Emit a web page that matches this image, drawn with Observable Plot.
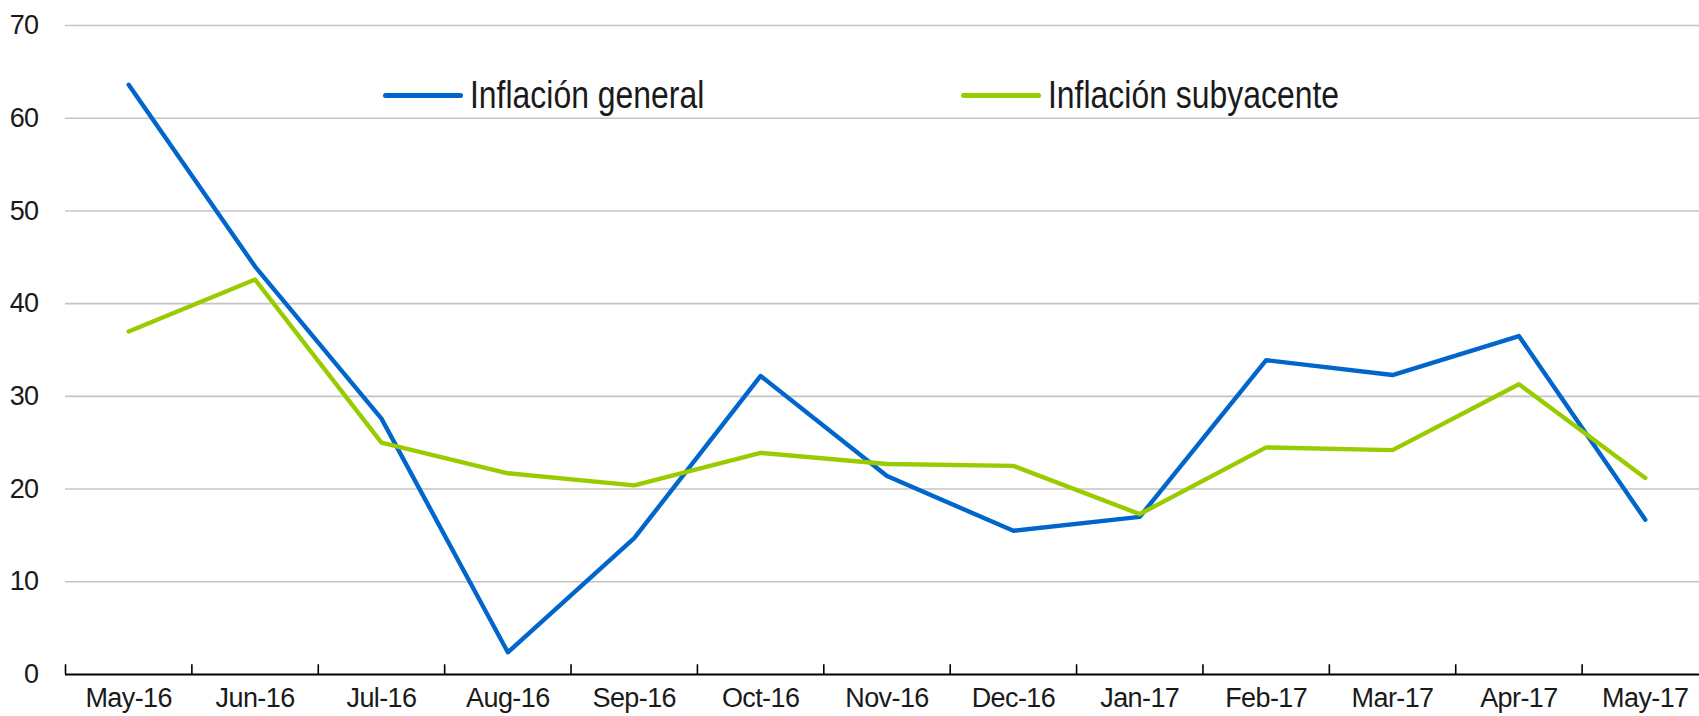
<!DOCTYPE html>
<html>
<head>
<meta charset="utf-8">
<script src="https://cdn.jsdelivr.net/npm/d3@7"></script>
<script src="https://cdn.jsdelivr.net/npm/@observablehq/plot@0.6"></script>
<style>
  html, body { margin: 0; padding: 0; background: #fff; }
  #wrap { position: relative; width: 1699px; height: 716px; overflow: hidden; }
  .leg { position: absolute; display: flex; align-items: center; font-family: "Liberation Sans", Arial, sans-serif; font-size: 38px; color: #1a1a1a; white-space: nowrap; }
  .sw { width: 80px; height: 5px; border-radius: 3px; margin-right: 7px; }
  .tx { display: inline-block; transform: scaleX(0.84); transform-origin: left center; }
</style>
</head>
<body>
<div id="wrap"></div>
<script>
const months = ["May-16","Jun-16","Jul-16","Aug-16","Sep-16","Oct-16","Nov-16","Dec-16","Jan-17","Feb-17","Mar-17","Apr-17","May-17"];
const general = [63.6, 44.0, 27.6, 2.4, 14.7, 32.2, 21.4, 15.5, 17.0, 33.9, 32.3, 36.5, 16.7];
const subyacente = [37.0, 42.6, 25.0, 21.7, 20.4, 23.9, 22.7, 22.5, 17.3, 24.5, 24.2, 31.3, 21.2];
const yTicks = [0, 10, 20, 30, 40, 50, 60, 70];
const seriesNames = ["Inflación general", "Inflación subyacente"];
const colors = ["#0066CC", "#99CC00"];

const rows = [];
months.forEach((m, i) => {
  rows.push({pos: i + 0.5, month: m, value: general[i], serie: seriesNames[0]});
  rows.push({pos: i + 0.5, month: m, value: subyacente[i], serie: seriesNames[1]});
});
const bounds = d3.range(0, months.length + 1);
const labelPos = months.map((m, i) => i + 0.5);

const chart = Plot.plot({
  width: 1699,
  height: 716,
  marginLeft: 65,
  marginRight: 0,
  marginTop: 25,
  marginBottom: 42,
  style: {fontFamily: "'Liberation Sans', Arial, sans-serif", fontSize: "27px", letterSpacing: "-0.6px", color: "#1a1a1a", background: "#fff"},
  x: {domain: [0, months.length], range: [65, 1708]},
  y: {domain: [0, 70]},
  marks: [
    Plot.ruleY(yTicks.filter(d => d > 0), {stroke: "#c4c4c4", strokeWidth: 1.6}),
    Plot.axisY({ticks: yTicks, tickSize: 0, tickPadding: 27, fontSize: 27, label: null}),
    Plot.axisX({ticks: labelPos, tickSize: 0, tickPadding: 13, fontSize: 27, label: null,
      tickFormat: d => months[Math.floor(d)]}),
    Plot.ruleX(bounds, {x: d => d, y1: 0, y2: 1.05, stroke: "#000", strokeWidth: 1.6}),
    Plot.ruleY([0], {stroke: "#000", strokeWidth: 2}),
    Plot.line(rows.filter(d => d.serie === seriesNames[0]), {x: "pos", y: "value", stroke: colors[0], strokeWidth: 4.4}),
    Plot.line(rows.filter(d => d.serie === seriesNames[1]), {x: "pos", y: "value", stroke: colors[1], strokeWidth: 4.4})
  ]
});

const wrap = document.getElementById("wrap");
wrap.appendChild(chart);

const legendPos = [{left: 383, top: 74}, {left: 961, top: 74}];
seriesNames.forEach((name, k) => {
  const div = document.createElement("div");
  div.className = "leg";
  div.style.left = legendPos[k].left + "px";
  div.style.top = legendPos[k].top + "px";
  const sw = document.createElement("span");
  sw.className = "sw";
  sw.style.background = colors[k];
  const tx = document.createElement("span");
  tx.className = "tx";
  tx.textContent = name;
  div.appendChild(sw);
  div.appendChild(tx);
  wrap.appendChild(div);
});
</script>
</body>
</html>
